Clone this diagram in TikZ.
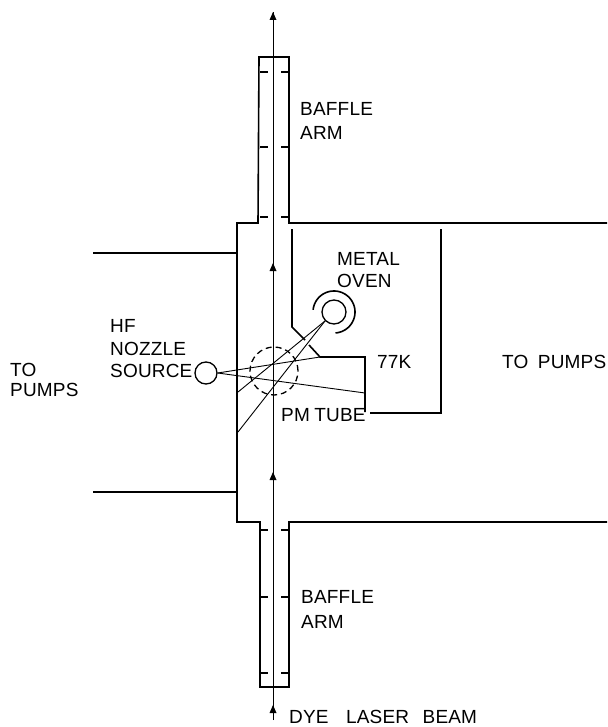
\documentclass[tikz,border=0pt]{standalone}
\usepackage{fontspec}
\setmainfont[LetterSpace=1]{Liberation Sans}
\tikzset{
	chamber/.style={line width=1.6pt},
	baffle/.style={line width=1.2pt},
	ray/.style={line width=0.9pt},
	lbl/.style={inner sep=0pt,align=left,anchor=north west,font=\fontsize{19}{24}\selectfont},
}
\begin{document}
\begin{tikzpicture}[>=stealth,x=1pt,y=-1pt]
	\useasboundingbox (0,0) rectangle (607,727);
	% chamber walls
	\draw[chamber] (607,223)--(289,223)--(289,57)--(259,57)--(258,223)--(237,223)--(237,522)--(260,522)--(260,687)--(289,687)--(289,522)--(607,522);
	\draw[chamber] (93,253)--(237,253);
	\draw[chamber] (93,492)--(237,492);
	% baffles
	\foreach \y in {72,147,217,530,597,673}{
		\draw[baffle] (260,\y)--(268,\y);
		\draw[baffle] (281,\y)--(289,\y);
	}
	% laser beam
	\coordinate (beamin) at (273,720);
	\coordinate (beamout) at (273,12);
	\draw[line width=0.9pt] (beamin)--(beamout);
	\foreach \y in {12,263,472,705}{
		\fill (273,\y)--(269.5,\y+8)--(276.5,\y+8)--cycle;
	}
	% cold shield
	\draw[chamber] (292,229)--(292,327)--(305,340);
	\draw[chamber] (309,345)--(320,357)--(365,357)--(365,412);
	\draw[baffle] (370,413)--(441,413)--(441,229);
	% source and oven
	\node[circle,draw,line width=1.3pt,minimum size=22pt,inner sep=0pt] (hf) at (206,373) {};
	\node[circle,draw,line width=1.3pt,minimum size=24pt,inner sep=0pt] (oven) at (334,312) {};
	\draw[chamber,samples=60,domain=-174:86] plot ({334+21*cos(\x)},{312+21*sin(\x)});
	\draw[line width=1.3pt,dash pattern=on 6pt off 4pt] (274,371) circle (24pt);
	% rays
	\coordinate (hftop) at (320,357);
	\coordinate (hfbot) at (365,393);
	\coordinate (wallup) at (238,392);
	\coordinate (walldn) at (238,432);
	\draw[ray] (hf.east)--(hftop);
	\draw[ray] (hf.east)--(hfbot);
	\draw[ray] (oven.south west)--(wallup);
	\draw[ray] (oven.south west)--(walldn);
	% labels
	\node[lbl] (arm1) at (300,102) {BAFFLE\\ARM};
	\node[lbl] (arm2) at (301,590) {BAFFLE\\[1pt]ARM};
	\node[lbl] (ovenlbl) at (337,252) {METAL\\[-2pt]OVEN};
	\node[lbl] (nozzle) at (110,319) {HF\\[-1pt]NOZZLE\\[-2pt]SOURCE};
	\node[lbl] (cold) at (377,355) {77K};
	\node[lbl] (pmt) at (281,408) {PM\hspace{-1pt} TUBE};
	\node[lbl] (pumpl) at (10,363) {TO\\[-4pt]PUMPS};
	\node[lbl] (pumpr) at (502,355) {TO\hspace{4pt} PUMPS};
	\node[lbl] (dye) at (289,710) {DYE\hspace{12pt} LASER\hspace{8pt} BEAM};
\end{tikzpicture}
\end{document}
